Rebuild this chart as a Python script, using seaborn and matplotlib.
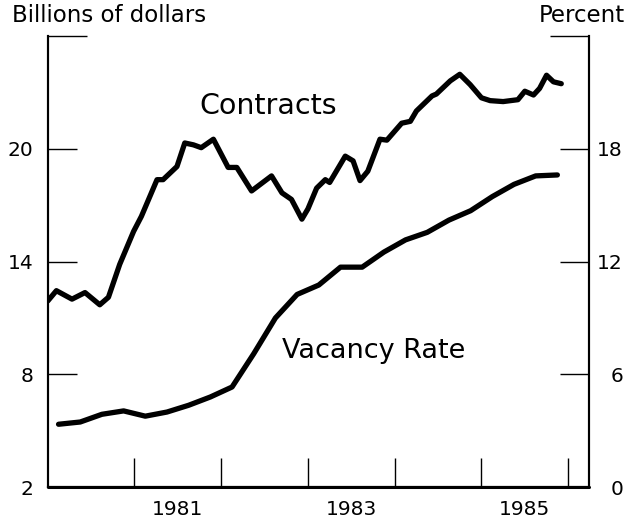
import matplotlib
matplotlib.use("Agg")
import matplotlib.pyplot as plt
import seaborn as sns
import pandas as pd

# contracts, billions of dollars (left axis)
contract_years = [1980.00, 1980.10, 1980.28, 1980.43, 1980.60, 1980.70, 1980.83, 1980.99,
                  1981.08, 1981.26, 1981.33, 1981.49, 1981.58, 1981.68, 1981.77, 1981.91,
                  1982.08, 1982.18, 1982.35, 1982.58, 1982.70, 1982.81, 1982.93, 1983.00,
                  1983.10, 1983.20, 1983.25, 1983.43, 1983.52, 1983.60, 1983.69, 1983.83,
                  1983.91, 1984.08, 1984.18, 1984.25, 1984.43, 1984.48, 1984.64, 1984.75,
                  1984.87, 1985.00, 1985.10, 1985.25, 1985.42, 1985.50, 1985.60, 1985.67,
                  1985.75, 1985.83, 1985.92]
contracts = [11.9, 12.45, 12.0, 12.35, 11.7, 12.1, 13.85, 15.6,
             16.4, 18.35, 18.35, 19.05, 20.3, 20.2, 20.05, 20.5,
             19.0, 19.0, 17.75, 18.55, 17.65, 17.3, 16.25, 16.8,
             17.9, 18.35, 18.2, 19.6, 19.35, 18.3, 18.8, 20.5,
             20.45, 21.35, 21.45, 22.0, 22.8, 22.9, 23.6, 23.95,
             23.4, 22.7, 22.55, 22.5, 22.6, 23.05, 22.85, 23.2,
             23.9, 23.55, 23.45]

# vacancy rate, percent (right axis), quarterly
vacancy_years = [1980.125, 1980.375, 1980.625, 1980.875, 1981.125, 1981.375, 1981.625, 1981.875,
                 1982.125, 1982.375, 1982.625, 1982.875, 1983.125, 1983.375, 1983.625, 1983.875,
                 1984.125, 1984.375, 1984.625, 1984.875, 1985.125, 1985.375, 1985.625, 1985.875]
vacancy = [3.35, 3.47, 3.88, 4.06, 3.78, 4.0, 4.36, 4.8,
           5.33, 7.1, 9.0, 10.25, 10.75, 11.7, 11.7, 12.5,
           13.15, 13.55, 14.2, 14.7, 15.45, 16.1, 16.55, 16.6]

left_ticks = [2, 8, 14, 20, 26]
left_labels = ["2", "8", "14", "20", ""]
right_ticks = [0, 6, 12, 18, 24]
right_labels = ["0", "6", "12", "18", ""]
year_ticks = [1981, 1982, 1983, 1984, 1985, 1986]
year_label_pos = [1981.5, 1983.5, 1985.5]
year_labels = ["1981", "1983", "1985"]

sns.set_theme(style="white")
plt.rcParams["font.family"] = ["DejaVu Sans"]
plt.rcParams["text.color"] = "black"
plt.rcParams["xtick.color"] = "black"
plt.rcParams["ytick.color"] = "black"

df_c = pd.DataFrame({"year": contract_years, "value": contracts})
df_v = pd.DataFrame({"year": vacancy_years, "value": vacancy})

fig = plt.figure(figsize=(6.37, 5.2), dpi=100)
ax = fig.add_axes([0.0749, 0.0629, 0.8498, 0.8684])
ax2 = ax.twinx()

line_kw = dict(color="black", linewidth=3.8, solid_capstyle="round", solid_joinstyle="round")
sns.lineplot(data=df_c, x="year", y="value", ax=ax, **line_kw)
sns.lineplot(data=df_v, x="year", y="value", ax=ax2, **line_kw)

ax.set_xlim(1980.0, 1986.24)
ax.set_ylim(2, 26)
ax2.set_ylim(0, 24)
ax.set_xlabel("")
ax.set_ylabel("")
ax2.set_ylabel("")

for a in (ax, ax2):
    a.spines["top"].set_visible(False)
    for s in ("left", "right", "bottom"):
        a.spines[s].set_visible(True)
        a.spines[s].set_color("black")
        a.spines[s].set_linewidth(1.5)
    a.grid(False)

# baseline along the bottom of the frame
ax2.plot([0, 1], [0, 0], transform=ax2.transAxes, color="black", linewidth=2.2,
         clip_on=False, zorder=5)

ax.set_yticks(left_ticks)
ax.set_yticklabels(left_labels)
ax2.set_yticks(right_ticks)
ax2.set_yticklabels(right_labels)
ax.tick_params(axis="y", left=True, direction="in", length=21, width=1, pad=10.4,
               labelsize=14.5, colors="black")
ax2.tick_params(axis="y", right=True, direction="in", length=21, width=1, pad=24.5,
                labelsize=14.5, colors="black")
for lab in ax2.get_yticklabels():
    lab.set_horizontalalignment("right")
ax.yaxis.get_major_ticks()[-1].tick1line.set_markersize(28)
ax2.yaxis.get_major_ticks()[-1].tick2line.set_markersize(28)

ax.set_xticks(year_ticks)
ax.set_xticklabels([])
ax.set_xticks(year_label_pos, minor=True)
ax.set_xticklabels(year_labels, minor=True)
ax.tick_params(axis="x", which="major", bottom=True, direction="in", length=21, width=1,
               colors="black")
ax.tick_params(axis="x", which="minor", bottom=True, length=0, pad=9, labelsize=14.5,
               colors="black")

ax.text(1982.54, 22.25, "Contracts", fontsize=20.5, ha="center", va="center", color="black")
ax.text(1983.755, 9.27, "Vacancy Rate", fontsize=19.5, ha="center", va="center", color="black")

fig.text(12 / 637, 1 - 16 / 520, "Billions of dollars", fontsize=16.5, ha="left", va="center",
         color="black")
fig.text(625 / 637, 1 - 16 / 520, "Percent", fontsize=16.5, ha="right", va="center",
         color="black")

fig.savefig("out.png", dpi=100)
